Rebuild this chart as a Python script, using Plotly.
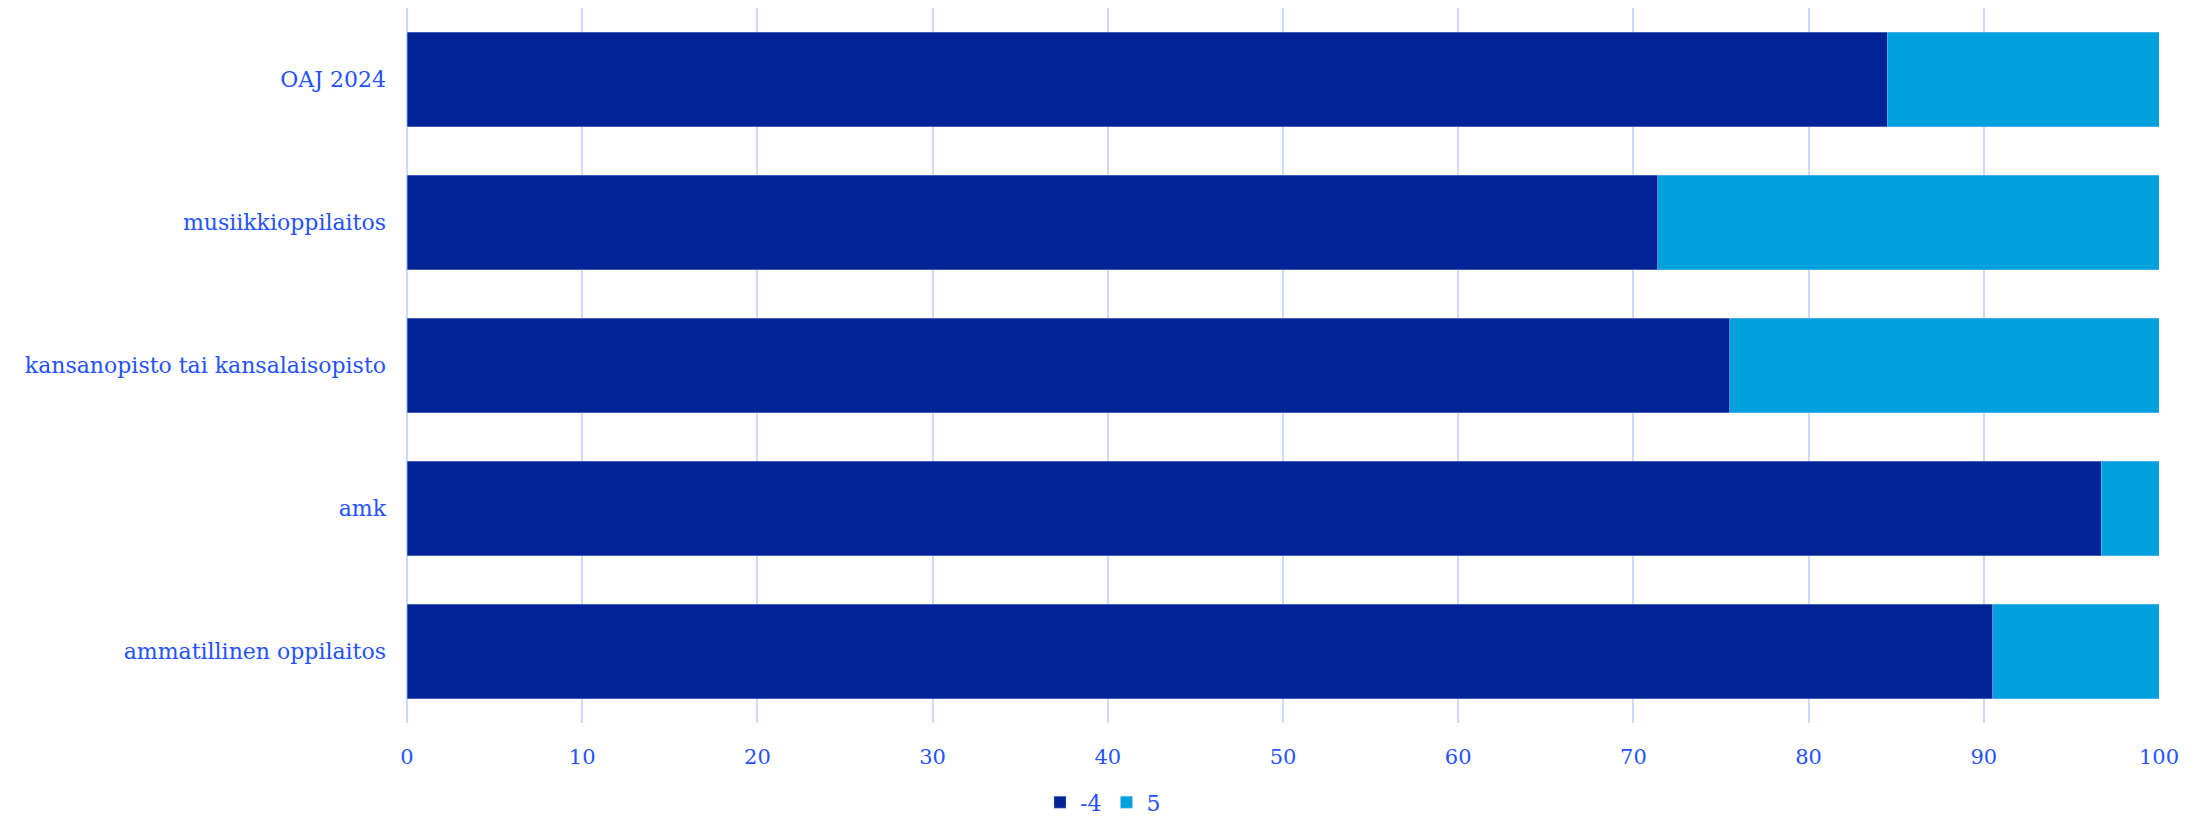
import plotly.graph_objects as go

categories = ["OAJ 2024", "musiikkioppilaitos", "kansanopisto tai kansalaisopisto", "amk", "ammatillinen oppilaitos"]
series_names = ["-4", "5"]
values_low = [84.5, 71.4, 75.5, 96.7, 90.5]
values_high = [15.5, 28.6, 24.5, 3.3, 9.5]
colors = ["#002395", "#00A0DF"]
x_ticks = [0, 10, 20, 30, 40, 50, 60, 70, 80, 90, 100]

text_color = "#2452ff"
font_family = "DejaVu Serif"

fig = go.Figure()
for name, vals, col in zip(series_names, [values_low, values_high], colors):
    fig.add_trace(go.Bar(
        y=categories, x=vals, name=name, orientation="h",
        marker=dict(color=col, line=dict(width=0.6, color="rgba(180,200,255,0.6)")),
    ))

fig.update_layout(
    width=2190, height=810,
    barmode="stack",
    bargap=0.337,
    plot_bgcolor="white", paper_bgcolor="white",
    margin=dict(l=399, r=39, t=0, b=95, autoexpand=False),
    font=dict(family=font_family, size=22, color=text_color),
    legend=dict(orientation="h", xref="container", x=0.5, xanchor="center",
                y=-0.111, yanchor="middle", yref="paper",
                font=dict(size=22, color=text_color), itemwidth=30, traceorder="normal"),
    xaxis=dict(range=[0, 100], tickvals=x_ticks, showgrid=True, gridcolor="#cdd9ff", gridwidth=2,
               zeroline=True, zerolinecolor="#cdd9ff", zerolinewidth=2,
               showline=False, ticks="", ticklabelstandoff=19,
               tickfont=dict(size=21, color=text_color)),
    yaxis=dict(categoryorder="array", categoryarray=categories[::-1], showgrid=False,
               showline=False, ticks="", ticklabelstandoff=20,
               tickfont=dict(size=22, color=text_color)),
)

fig.write_html("out.html")
